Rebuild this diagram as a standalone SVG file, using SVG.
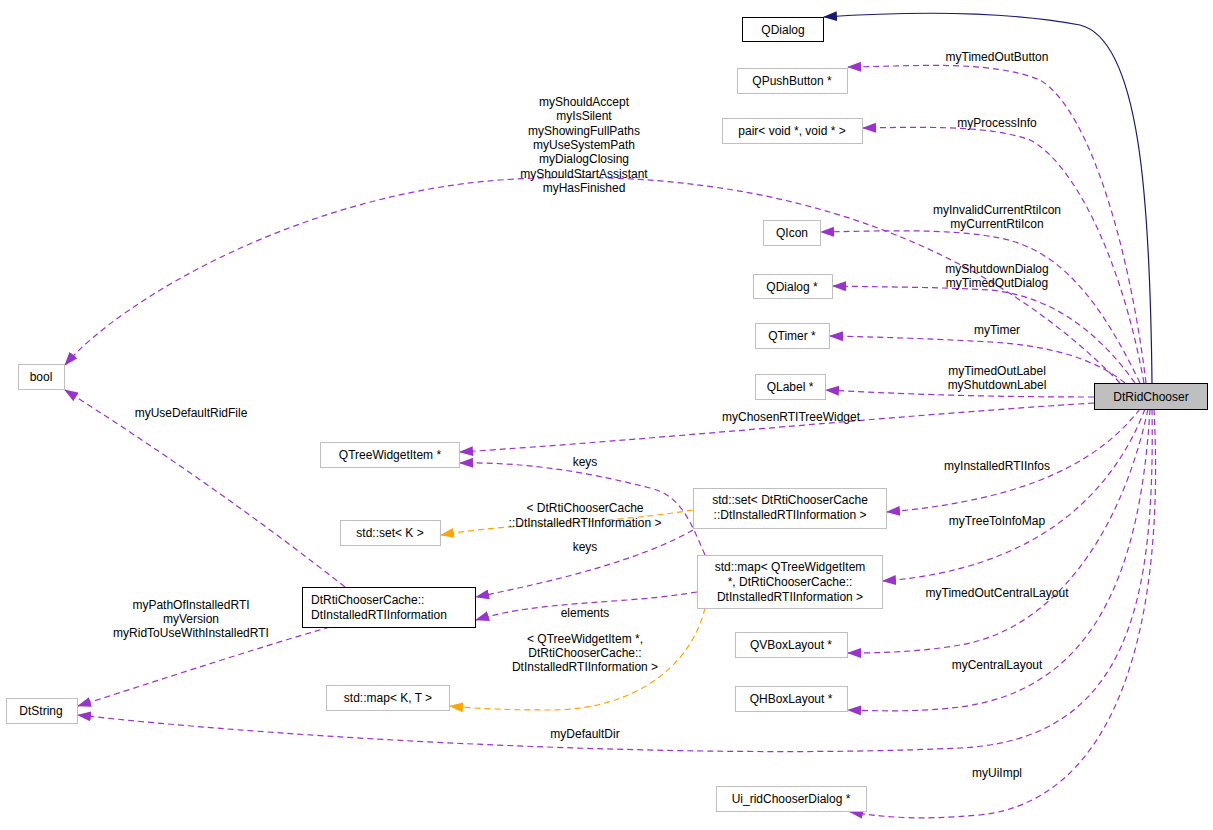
<svg xmlns="http://www.w3.org/2000/svg" width="1213" height="830" viewBox="0 0 1213 830">
<style>
text{font-family:"Liberation Sans",Arial,sans-serif;font-size:12px;fill:#000}
.n rect{fill:#fff;stroke:#bfbfbf;stroke-width:1}
.b rect{stroke:#000}
.c text{text-anchor:middle}
.e{fill:none;stroke:#9a32cd;stroke-width:1.2;stroke-dasharray:6,4}
.o{fill:none;stroke:#ffa500;stroke-width:1.2;stroke-dasharray:6,4}
.s{fill:none;stroke:#191970;stroke-width:1.2}
</style>
<defs>
<marker id="mp" markerWidth="14" markerHeight="10" refX="13" refY="5" orient="auto" markerUnits="userSpaceOnUse"><path d="M0,0L14,5L0,10z" fill="#9a32cd"/></marker>
<marker id="mo" markerWidth="14" markerHeight="10" refX="13" refY="5" orient="auto" markerUnits="userSpaceOnUse"><path d="M0,0L14,5L0,10z" fill="#ffa500"/></marker>
<marker id="ms" markerWidth="14" markerHeight="10" refX="13" refY="5" orient="auto" markerUnits="userSpaceOnUse"><path d="M0,0L14,5L0,10z" fill="#191970"/></marker>
</defs>
<rect width="1213" height="830" fill="#fff"/>
<g id="connectors">
<path class="s" marker-end="url(#ms)" d="M1152,383C1150,200 1140,40 1080,25C1000,10 900,12 824,17"/>
<path class="e" marker-end="url(#mp)" d="M1146,383C1130,250 1090,110 1040,80C990,60 920,66 848,67"/>
<path class="e" marker-end="url(#mp)" d="M1144,383C1120,250 1070,160 1030,140C990,125 920,127 863,128"/>
<path class="e" marker-end="url(#mp)" d="M1140,383C1100,300 1060,250 1000,238C950,228 880,231 821,232"/>
<path class="e" marker-end="url(#mp)" d="M1135,383C1090,320 1040,295 990,290C940,287 880,287 833,286"/>
<path class="e" marker-end="url(#mp)" d="M1125,383C1090,355 1040,345 990,342C940,339 880,337 830,336"/>
<path class="e" marker-end="url(#mp)" d="M1094,397C1000,397 920,395 826,390"/>
<path class="e" marker-end="url(#mp)" d="M1094,403C900,415 650,440 460,452"/>
<path class="e" marker-end="url(#mp)" d="M1140,409C1100,460 1030,500 887,512"/>
<path class="e" marker-end="url(#mp)" d="M1145,409C1110,500 1030,570 883,581"/>
<path class="e" marker-end="url(#mp)" d="M1148,409C1120,540 1050,630 960,645C920,652 880,653 848,653"/>
<path class="e" marker-end="url(#mp)" d="M1150,409C1140,580 1090,690 960,707C920,712 880,711 848,710"/>
<path class="e" marker-end="url(#mp)" d="M1152,409C1155,600 1130,740 960,748C700,760 300,740 78,715"/>
<path class="e" marker-end="url(#mp)" d="M1154,409C1165,620 1120,800 980,815C920,820 890,818 850,812"/>
<path class="e" marker-end="url(#mp)" d="M1120,383C1000,260 800,160 500,180C300,195 120,300 65,365"/>
<path class="e" marker-end="url(#mp)" d="M345,587C260,520 160,450 65,390"/>
<path class="e" marker-end="url(#mp)" d="M330,627C250,650 160,680 78,706"/>
<path class="e" marker-end="url(#mp)" d="M705,555C690,520 680,495 650,488C580,470 520,462 460,463"/>
<path class="o" marker-end="url(#mo)" d="M693,510C600,525 520,522 441,535"/>
<path class="e" marker-end="url(#mp)" d="M693,530C640,560 560,580 476,597"/>
<path class="e" marker-end="url(#mp)" d="M697,592C620,605 540,600 476,620"/>
<path class="o" marker-end="url(#mo)" d="M705,608C690,670 630,710 550,710C500,710 470,708 450,706"/>
</g>
<g class="c">
<text x="997" y="61">myTimedOutButton</text>
<text x="997" y="127">myProcessInfo</text>
<text x="584" y="106">myShouldAccept</text>
<text x="584" y="120">myIsSilent</text>
<text x="584" y="135">myShowingFullPaths</text>
<text x="584" y="149">myUseSystemPath</text>
<text x="584" y="163">myDialogClosing</text>
<text x="584" y="178">myShouldStartAssistant</text>
<text x="584" y="192">myHasFinished</text>
<text x="997" y="214">myInvalidCurrentRtiIcon</text>
<text x="997" y="228">myCurrentRtiIcon</text>
<text x="997" y="273">myShutdownDialog</text>
<text x="997" y="287">myTimedOutDialog</text>
<text x="997" y="334">myTimer</text>
<text x="997" y="375">myTimedOutLabel</text>
<text x="997" y="389">myShutdownLabel</text>
<text x="191" y="417">myUseDefaultRidFile</text>
<text x="791" y="421">myChosenRTITreeWidget</text>
<text x="997" y="470">myInstalledRTIInfos</text>
<text x="585" y="466">keys</text>
<text x="585" y="512">&lt; DtRtiChooserCache</text>
<text x="585" y="527">::DtInstalledRTIInformation &gt;</text>
<text x="585" y="551">keys</text>
<text x="997" y="525">myTreeToInfoMap</text>
<text x="997" y="597">myTimedOutCentralLayout</text>
<text x="191" y="609">myPathOfInstalledRTI</text>
<text x="191" y="623">myVersion</text>
<text x="191" y="637">myRidToUseWithInstalledRTI</text>
<text x="585" y="617">elements</text>
<text x="585" y="643">&lt; QTreeWidgetItem *,</text>
<text x="585" y="657">DtRtiChooserCache::</text>
<text x="585" y="671">DtInstalledRTIInformation &gt;</text>
<text x="997" y="669">myCentralLayout</text>
<text x="585" y="738">myDefaultDir</text>
<text x="997" y="777">myUiImpl</text>
</g>
<g id="QDialog" class="n b c"><rect x="742.5" y="17.5" width="81" height="24"/><text x="783" y="34">QDialog</text></g>
<g id="QPushButton" class="n c"><rect x="737.5" y="68.5" width="110" height="25"/><text x="792" y="85">QPushButton *</text></g>
<g id="pair" class="n c"><rect x="722.5" y="118.5" width="140" height="25"/><text x="792" y="135">pair&lt; void *, void * &gt;</text></g>
<g id="QIcon" class="n c"><rect x="763.5" y="220.5" width="57" height="25"/><text x="792" y="237">QIcon</text></g>
<g id="QDialogPtr" class="n c"><rect x="753.5" y="274.5" width="79" height="24"/><text x="792" y="291">QDialog *</text></g>
<g id="QTimer" class="n c"><rect x="755.5" y="323.5" width="74" height="25"/><text x="792" y="340">QTimer *</text></g>
<g id="QLabel" class="n c"><rect x="755.5" y="374.5" width="70" height="25"/><text x="790" y="391">QLabel *</text></g>
<g id="DtRidChooser" class="n b c"><rect x="1094.5" y="383.5" width="113" height="26" style="fill:#bfbfbf"/><text x="1151" y="401">DtRidChooser</text></g>
<g id="bool" class="n c"><rect x="18.5" y="364.5" width="46" height="25"/><text x="41" y="381">bool</text></g>
<g id="QTreeWidgetItem" class="n c"><rect x="320.5" y="442.5" width="139" height="25"/><text x="390" y="459">QTreeWidgetItem *</text></g>
<g id="stdsetK" class="n c"><rect x="340.5" y="520.5" width="100" height="25"/><text x="390" y="537">std::set&lt; K &gt;</text></g>
<g id="stdsetInfo" class="n c"><rect x="693.5" y="488.5" width="193" height="40"/><text x="790" y="504">std::set&lt; DtRtiChooserCache</text><text x="790" y="519">::DtInstalledRTIInformation &gt;</text></g>
<g id="DtInstalledRTIInformation" class="n b"><rect x="302.5" y="587.5" width="173" height="40"/><text x="311" y="604">DtRtiChooserCache::</text><text x="311" y="619">DtInstalledRTIInformation</text></g>
<g id="stdmapInfo" class="n c"><rect x="697.5" y="555.5" width="185" height="53"/><text x="790" y="571">std::map&lt; QTreeWidgetItem</text><text x="790" y="586"> *, DtRtiChooserCache::</text><text x="790" y="601">DtInstalledRTIInformation &gt;</text></g>
<g id="QVBoxLayout" class="n c"><rect x="735.5" y="632.5" width="112" height="25"/><text x="791" y="649">QVBoxLayout *</text></g>
<g id="QHBoxLayout" class="n c"><rect x="735.5" y="686.5" width="112" height="25"/><text x="791" y="703">QHBoxLayout *</text></g>
<g id="stdmapKT" class="n c"><rect x="326.5" y="685.5" width="123" height="25"/><text x="388" y="702">std::map&lt; K, T &gt;</text></g>
<g id="DtString" class="n c"><rect x="6.5" y="698.5" width="71" height="25"/><text x="41" y="715">DtString</text></g>
<g id="Ui_ridChooserDialog" class="n c"><rect x="716.5" y="786.5" width="150" height="25"/><text x="791" y="803">Ui_ridChooserDialog *</text></g>
</svg>
